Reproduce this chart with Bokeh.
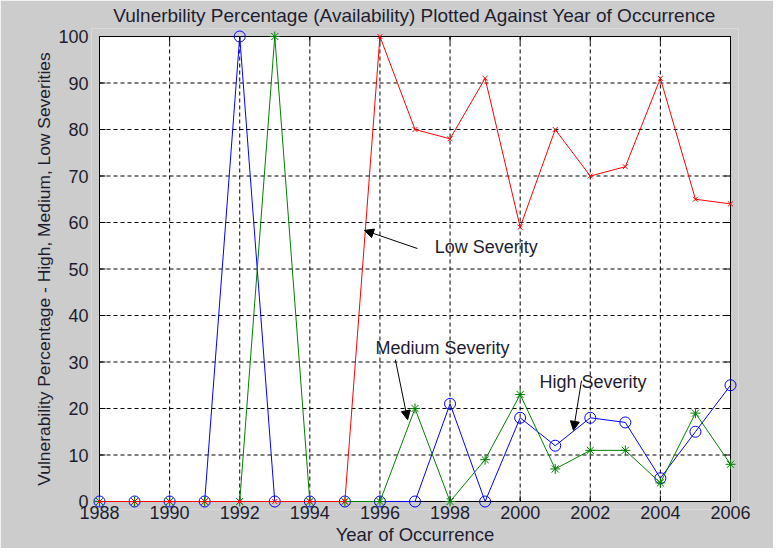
from bokeh.plotting import figure
from bokeh.models import Range1d, Arrow, NormalHead, Label, FixedTicker
from bokeh.embed import file_html
from bokeh.resources import INLINE

years = list(range(1988, 2007))
high = [0, 0, 0, 0, 100, 0, 0, 0, 0, 0, 21, 0, 18, 12, 18, 17, 5, 15, 25]
medium = [0, 0, 0, 0, 0, 100, 0, 0, 0, 20, 0, 9, 23, 7, 11, 11, 4, 19, 8]
low = [0, 0, 0, 0, 0, 0, 0, 0, 100, 80, 78, 91, 59, 80, 70, 72, 91, 65, 64]

x_ticks = list(range(1988, 2007, 2))
y_ticks = list(range(0, 101, 10))

# annotations
ann_text = ["Low Severity", "Medium Severity", "High Severity"]
ann_tx = [1997.56, 1995.87, 2000.55]
ann_ty = [54.8, 33.1, 25.8]
arr_x0 = [1997.07, 1996.44, 2001.75]
arr_y0 = [54.4, 30.5, 26.0]
arr_x1 = [1995.56, 1996.79, 2001.52]
arr_y1 = [58.3, 17.6, 15.3]

FONT = "Liberation Sans"
TXT = "#1e1e30"

# layout constants (pixels)
BOX_W, BOX_H = 631, 465
PAD = 8
TICK = 6
xmin, xmax = x_ticks[0], x_ticks[-1]
ymin, ymax = y_ticks[0], y_ticks[-1]
px_x = (xmax - xmin) / BOX_W
px_y = (ymax - ymin) / BOX_H

p = figure(width=773, height=548, output_backend="svg", toolbar_location=None,
           x_range=Range1d(xmin - PAD * px_x, xmax + PAD * px_x),
           y_range=Range1d(ymin - PAD * px_y, ymax + PAD * px_y),
           min_border_left=91, min_border_right=35, min_border_top=28, min_border_bottom=39,
           title="Vulnerbility Percentage (Availability) Plotted Against Year of Occurrence")
p.border_fill_color = "#cccccc"
p.background_fill_color = "#cccccc"
p.outline_line_color = None
p.xgrid.visible = False
p.ygrid.visible = False

p.title.text_font = FONT
p.title.text_font_size = "19px"
p.title.text_font_style = "normal"
p.title.text_color = TXT
p.title.align = "center"
p.title.standoff = 5

for ax in (p.xaxis[0], p.yaxis[0]):
    ax.major_label_text_font = FONT
    ax.major_label_text_font_size = "18px"
    ax.major_label_text_color = TXT
    ax.axis_label_text_font = FONT
    ax.axis_label_text_font_style = "normal"
    ax.axis_label_text_color = TXT
    ax.major_tick_line_color = None
    ax.minor_tick_line_color = None
    ax.axis_line_color = None

p.xaxis.ticker = FixedTicker(ticks=x_ticks)
p.yaxis.ticker = FixedTicker(ticks=y_ticks)
p.xaxis.axis_label = "Year of Occurrence"
p.yaxis.axis_label = "Vulnerability Percentage - High, Medium, Low Severities"
p.xaxis.axis_label_text_font_size = "18.5px"
p.yaxis.axis_label_text_font_size = "17.4px"
p.xaxis.major_label_standoff = -10
p.xaxis.axis_label_standoff = 2
p.yaxis.major_label_standoff = -3
p.yaxis.axis_label_standoff = 1

# white axes box
p.quad(left=[xmin], right=[xmax], bottom=[ymin], top=[ymax], fill_color="white",
       line_color="black", line_width=1, level="image")

# dotted grid
p.segment(x0=x_ticks, y0=[ymin] * len(x_ticks), x1=x_ticks, y1=[ymax] * len(x_ticks),
          line_color="black", line_dash="4 3", line_width=1, level="underlay")
p.segment(x0=[xmin] * len(y_ticks), y0=y_ticks, x1=[xmax] * len(y_ticks), y1=y_ticks,
          line_color="black", line_dash="4 3", line_width=1, level="underlay")

# inward ticks on all four sides
tx, ty = TICK * px_x, TICK * px_y
p.segment(x0=x_ticks, y0=[ymin] * len(x_ticks), x1=x_ticks, y1=[ymin + ty] * len(x_ticks),
          line_color="black", level="underlay")
p.segment(x0=x_ticks, y0=[ymax] * len(x_ticks), x1=x_ticks, y1=[ymax - ty] * len(x_ticks),
          line_color="black", level="underlay")
p.segment(x0=[xmin] * len(y_ticks), y0=y_ticks, x1=[xmin + tx] * len(y_ticks), y1=y_ticks,
          line_color="black", level="underlay")
p.segment(x0=[xmax] * len(y_ticks), y0=y_ticks, x1=[xmax - tx] * len(y_ticks), y1=y_ticks,
          line_color="black", level="underlay")

p.line(years, high, line_color="#0000ff", line_width=1)
p.scatter(years, high, marker="circle", size=11, line_color="#0000ff", fill_color=None, line_width=1)
p.line(years, medium, line_color="#008000", line_width=1)
p.scatter(years, medium, marker="asterisk", size=10, line_color="#008000", line_width=1)
p.line(years, low, line_color="#ff0000", line_width=1)
p.scatter(years, low, marker="x", size=7, line_color="#ff0000", line_width=1)

for i in range(len(ann_text)):
    p.add_layout(Arrow(end=NormalHead(size=9, fill_color="black", line_color="black"),
                       x_start=arr_x0[i], y_start=arr_y0[i], x_end=arr_x1[i], y_end=arr_y1[i],
                       line_color="black", line_width=1))
    p.add_layout(Label(x=ann_tx[i], y=ann_ty[i], text=ann_text[i], text_font=FONT,
                       text_font_size="18px", text_color=TXT, text_baseline="middle",
                       text_align="left"))

open("out.html", "w").write(file_html(p, INLINE))
